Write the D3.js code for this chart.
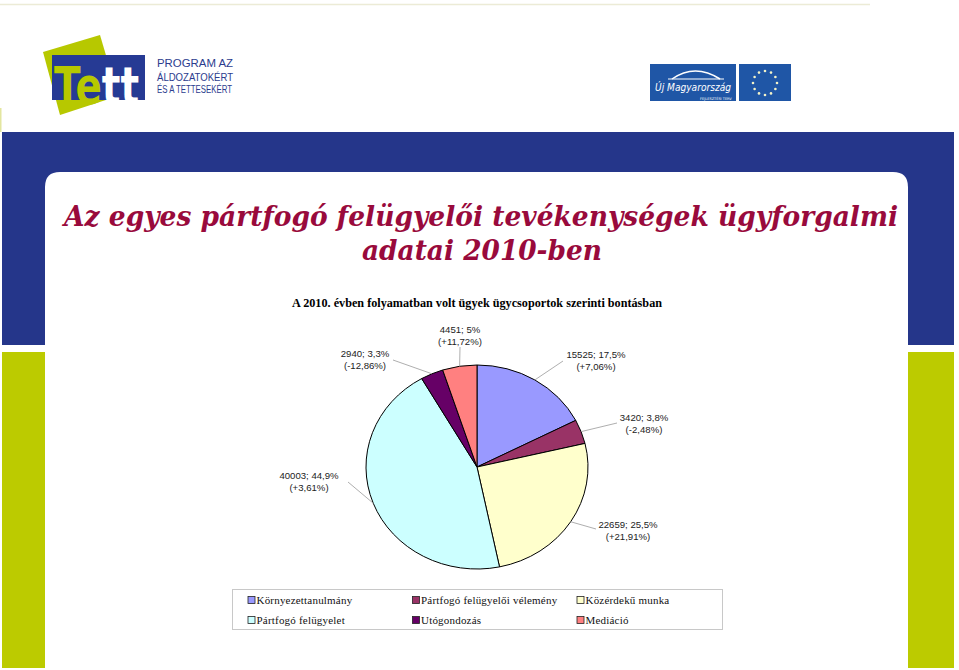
<!DOCTYPE html>
<html><head><meta charset="utf-8">
<script src="https://cdn.jsdelivr.net/npm/d3@7"></script>
<style>html,body{margin:0;padding:0;background:#fff;}svg{display:block;}</style>
</head><body>
<script>
// ---- data ----
const categories = ["Környezettanulmány","Pártfogó felügyelői vélemény","Közérdekű munka","Pártfogó felügyelet","Utógondozás","Mediáció"];
const values = [15525, 3420, 22659, 40003, 2940, 4451];
const shareLabels = ["17,5%","3,8%","25,5%","44,9%","3,3%","5%"];
const changeLabels = ["+7,06%","-2,48%","+21,91%","+3,61%","-12,86%","+11,72%"];
const colors = ["#9999FF","#993366","#FFFFCC","#CCFFFF","#660066","#FF8080"];
const titleLines = ["Az egyes pártfogó felügyelői tevékenységek ügyforgalmi","adatai 2010-ben"];
const subtitle = "A 2010. évben folyamatban volt ügyek ügycsoportok szerinti bontásban";

// ---- layout ----
const W = 959, H = 670;
const cx = 477, cy = 467, ry = 102, rx = 111;
// label text centres (x, first baseline) and leader end points
const labelLayout = [
  {x:596, y:358, ex:563, ey:361},
  {x:644, y:421, ex:617, ey:423},
  {x:628, y:528, ex:596, ey:529},
  {x:309, y:479, ex:348, ey:482},
  {x:365, y:357, ex:393, ey:360},
  {x:460, y:333, ex:460, ey:347}
];

const svg = d3.select("body").append("svg").attr("width", W).attr("height", H);

// ---- slide background ----
svg.append("line").attr("x1",0).attr("x2",870).attr("y1",4.5).attr("y2",4.5)
  .attr("stroke","#ecebd6").attr("stroke-width",1.5);
svg.append("rect").attr("x",0).attr("y",108).attr("width",1.5).attr("height",24).attr("fill","#e3e6a0");
svg.append("rect").attr("x",2).attr("y",132).attr("width",952).attr("height",213).attr("fill","#25368a");
svg.append("rect").attr("x",2).attr("y",352).attr("width",43).attr("height",316).attr("fill","#bccb00");
svg.append("rect").attr("x",908).attr("y",352).attr("width",46).attr("height",316).attr("fill","#bccb00");
const r0 = 15, L = 45, R = 908, T = 172;
svg.append("path").attr("fill","#fff")
  .attr("d", `M${L},${H} L${L},${T+r0} Q${L},${T} ${L+r0},${T} L${R-r0},${T} Q${R},${T} ${R},${T+r0} L${R},${H} Z`);

// ---- Tett logo ----
const logo = svg.append("g");
logo.append("path").attr("d","M43,52 L100,35 L118,96 L60,115 Z").attr("fill","#b7c800");
logo.append("rect").attr("x",52).attr("y",55).attr("width",93).attr("height",45).attr("fill","#263a94");
const tt = logo.append("g").attr("transform","translate(54,104) scale(1,1.3)")
  .append("text").attr("x",0).attr("y",0)
  .attr("font-family","DejaVu Sans, sans-serif").attr("font-weight","bold")
  .attr("font-size",39);
tt.append("tspan").attr("fill","#b7c800").text("Te");
tt.append("tspan").attr("fill","#ffffff").text("tt");
const ltxt = ["PROGRAM AZ","ÁLDOZATOKÉRT","ÉS A TETTESEKÉRT"];
const lty = [67, 81, 93];
logo.selectAll("text.lt").data(ltxt).enter().append("text").attr("class","lt")
  .attr("x",157).attr("y",(d,i)=>lty[i]).text(d=>d)
  .attr("font-family","Liberation Sans, Arial, sans-serif").attr("font-size",(d,i)=>i==2?10:11)
  .attr("fill","#2c3c8e")
  .attr("textLength",(d,i)=>i==2?75:76).attr("lengthAdjust","spacingAndGlyphs");

// ---- ÚMFT / EU logos ----
svg.append("rect").attr("x",650).attr("y",64).attr("width",86).attr("height",37).attr("fill","#1f56a6");
svg.append("rect").attr("x",739).attr("y",64).attr("width",52).attr("height",37).attr("fill","#1f56a6");
svg.append("path").attr("d","M672,79 Q695,63 720,79").attr("fill","none").attr("stroke","#fff").attr("stroke-width",1.5);
svg.append("line").attr("x1",668).attr("x2",724).attr("y1",79).attr("y2",79).attr("stroke","#fff").attr("stroke-width",1);
svg.append("text").attr("x",655).attr("y",91).text("Új Magyarország")
  .attr("font-family","DejaVu Sans, sans-serif").attr("font-style","italic").attr("font-size",11)
  .attr("fill","#fff").attr("textLength",76).attr("lengthAdjust","spacingAndGlyphs");
svg.append("text").attr("x",700).attr("y",99.5).text("FEJLESZTÉSI TERV")
  .attr("font-family","DejaVu Sans, sans-serif").attr("font-size",3.5).attr("fill","#fff");
svg.append("g").selectAll("circle").data(d3.range(12)).enter().append("circle")
  .attr("cx",d=>765+12*Math.sin(d*Math.PI/6)).attr("cy",d=>83-12*Math.cos(d*Math.PI/6))
  .attr("r",1.3).attr("fill","#f3f3c8");

// ---- title ----
const ty = [226, 260], tx = [64, 362], tw = [834, 240];
svg.selectAll("g.title").data(titleLines).enter().append("g").attr("class","title")
  .attr("transform",(d,i)=>`translate(${tx[i]},${ty[i]}) scale(1,1.08)`)
  .append("text").attr("x",0).attr("y",0).text(d=>d)
  .attr("font-family","DejaVu Serif, Georgia, serif").attr("font-style","italic").attr("font-weight","bold")
  .attr("font-size",26).attr("fill","#990a3c")
  .attr("textLength",(d,i)=>tw[i]).attr("lengthAdjust","spacingAndGlyphs");

// ---- chart subtitle ----
svg.append("text").attr("x",292).attr("y",307).text(subtitle)
  .attr("font-family","Liberation Serif, serif").attr("font-weight","bold").attr("font-size",11.5)
  .attr("fill","#000").attr("textLength",370).attr("lengthAdjust","spacingAndGlyphs");

// ---- pie ----
const pie = d3.pie().sort(null).value(d=>d)(values);
const arc = d3.arc().innerRadius(0).outerRadius(ry);
const sx = rx/ry;
const pg = svg.append("g").attr("transform",`translate(${cx},${cy}) scale(${sx},1)`);
pg.selectAll("path").data(pie).enter().append("path")
  .attr("d",arc).attr("fill",(d,i)=>colors[i])
  .attr("stroke","#000").attr("stroke-width",1).attr("vector-effect","non-scaling-stroke");

// leader lines
const edge = d => { const a=(d.startAngle+d.endAngle)/2; return [cx+Math.sin(a)*rx, cy-Math.cos(a)*ry]; };
svg.append("g").selectAll("line").data(pie).enter().append("line")
  .attr("x1",d=>edge(d)[0]).attr("y1",d=>edge(d)[1])
  .attr("x2",(d,i)=>labelLayout[i].ex).attr("y2",(d,i)=>labelLayout[i].ey)
  .attr("stroke","#999").attr("stroke-width",0.8);

// labels
const lg = svg.append("g").attr("font-family","Liberation Sans, Arial, sans-serif").attr("font-size",9.6).attr("fill","#222").attr("text-anchor","middle");
pie.forEach((d,i)=>{
  const p = labelLayout[i];
  lg.append("text").attr("x",p.x).attr("y",p.y).text(`${values[i]}; ${shareLabels[i]}`);
  lg.append("text").attr("x",p.x).attr("y",p.y+11.5).text(`(${changeLabels[i]})`);
});

// ---- legend ----
svg.append("rect").attr("x",232.5).attr("y",589.5).attr("width",490).attr("height",40)
  .attr("fill","#fff").attr("stroke","#c8c8c8").attr("stroke-width",1);
const colX = d3.scalePoint().domain([0,1,2]).range([248,577]);
const rowY = d3.scalePoint().domain([0,1]).range([600,620]);
const leg = svg.append("g").selectAll("g").data(categories).enter().append("g")
  .attr("transform",(d,i)=>`translate(${colX(i%3)},${rowY(Math.floor(i/3))})`);
leg.append("rect").attr("x",0).attr("y",-3.5).attr("width",7).attr("height",7)
  .attr("fill",(d,i)=>colors[i]).attr("stroke","#222").attr("stroke-width",0.8);
leg.append("text").attr("x",8.5).attr("y",4).text(d=>d)
  .attr("font-family","Liberation Serif, serif").attr("font-size",11).attr("fill","#111")
  .attr("letter-spacing",0.2);
</script>
</body></html>
